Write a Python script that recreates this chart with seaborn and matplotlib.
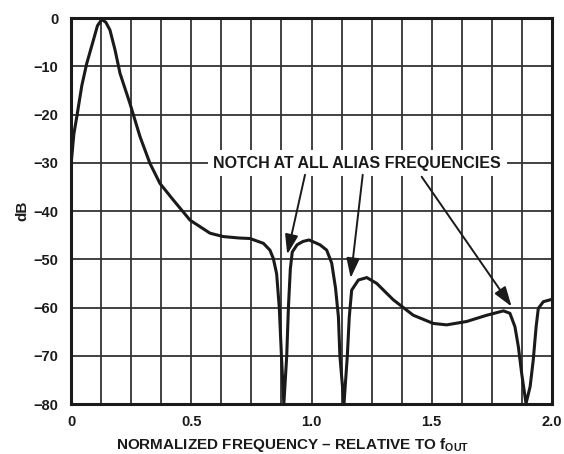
import numpy as np
import pandas as pd
import matplotlib
matplotlib.use("Agg")
import matplotlib.pyplot as plt
import seaborn as sns

# frequency response (normalized freq, dB)
freq = [0.000, 0.012, 0.024, 0.045, 0.065, 0.093, 0.110, 0.128, 0.145, 0.162,
        0.183, 0.204, 0.245, 0.287, 0.328, 0.370, 0.425, 0.495, 0.578, 0.633,
        0.700, 0.744, 0.800, 0.827, 0.841, 0.855, 0.866, 0.875, 0.885, 0.897,
        0.904, 0.912, 0.920, 0.940, 0.965, 0.990, 1.035, 1.063, 1.084, 1.100,
        1.112, 1.118, 1.135, 1.149, 1.157, 1.167, 1.195, 1.230, 1.271, 1.340,
        1.423, 1.506, 1.562, 1.645, 1.729, 1.798, 1.825, 1.846, 1.860, 1.874,
        1.892, 1.909, 1.922, 1.934, 1.943, 1.964, 2.000]
db = [-30.5, -24.0, -20.5, -14.0, -9.5, -4.6, -1.6, -0.3, -0.9, -2.5,
      -6.6, -11.5, -17.7, -24.6, -30.1, -34.3, -37.7, -41.9, -44.6, -45.3,
      -45.6, -45.7, -46.7, -48.1, -49.8, -53.0, -60.0, -70.0, -80.0, -70.0,
      -60.0, -52.0, -48.5, -47.0, -46.3, -46.0, -47.0, -48.1, -50.8, -56.0,
      -62.0, -70.0, -80.0, -70.0, -62.0, -56.4, -54.3, -53.8, -55.0, -58.4,
      -61.6, -63.3, -63.6, -62.9, -61.6, -60.7, -61.2, -64.0, -68.1, -73.7,
      -79.9, -76.4, -70.9, -64.0, -60.2, -58.8, -58.3]

xticks = [0, 0.5, 1.0, 1.5, 2.0]
xticklabels = ["0", "0.5", "1.0", "1.5", "2.0"]
yticks = [0, -10, -20, -30, -40, -50, -60, -70, -80]

note = "NOTCH AT ALL ALIAS FREQUENCIES"
note_xy = (1.19, -30.1)
arrow_starts = [(0.973, -32.5), (1.213, -32.5), (1.458, -32.9)]
arrow_tips = [(0.899, -49.0), (1.163, -53.9), (1.832, -59.8)]

df = pd.DataFrame({"freq": freq, "db": db})

sns.set_theme(style="white")
plt.rcParams["font.family"] = ["Liberation Sans", "DejaVu Sans"]
plt.rcParams["font.weight"] = "bold"
plt.rcParams["mathtext.fontset"] = "custom"
plt.rcParams["mathtext.rm"] = "Liberation Sans:bold"
plt.rcParams["mathtext.bf"] = "Liberation Sans:bold"

fig = plt.figure(figsize=(5.64, 4.54), dpi=100)
ax = fig.add_axes([71 / 564, 1 - 404 / 454, 481 / 564, 386 / 454])

sns.lineplot(data=df, x="freq", y="db", ax=ax, color="#1a1a1a", lw=2.2,
             sort=False, zorder=4)

ax.set_xlim(0, 2.0)
ax.set_ylim(-80, 0)
ax.set_xticks(xticks)
ax.set_xticklabels(xticklabels)
ax.set_xticks(np.arange(0, 2.01, 0.125), minor=True)
ax.set_yticks(yticks)
ax.grid(True, which="both", color="#333333", lw=1.3, zorder=1)
ax.tick_params(which="both", length=0, labelsize=10.5, colors="#1a1a1a")
ax.tick_params(axis="x", pad=8)
ax.tick_params(axis="y", pad=9)
for lab in ax.get_xticklabels() + ax.get_yticklabels():
    lab.set_fontweight("bold")
for sp in ax.spines.values():
    sp.set_color("#1a1a1a")
    sp.set_linewidth(2.2)
    sp.set_zorder(5)

ax.set_xlabel(r"NORMALIZED FREQUENCY – RELATIVE TO f$_{\mathbf{OUT}}$",
              fontsize=11, fontweight="bold", color="#1a1a1a")
ax.xaxis.set_label_coords((293 - 71) / 481, (404 - 436) / 386)
ax.set_ylabel("dB", fontsize=11, fontweight="bold", labelpad=3, color="#1a1a1a")

ax.text(note_xy[0], note_xy[1], note, ha="center", va="center", fontsize=11.5,
        fontweight="bold", color="#1a1a1a", zorder=6,
        bbox=dict(facecolor="white", edgecolor="none", pad=4))
for start, tip in zip(arrow_starts, arrow_tips):
    ax.annotate("", xy=tip, xytext=start, zorder=6,
                arrowprops=dict(arrowstyle="-|>,head_length=1.2,head_width=0.4",
                                color="#1a1a1a", lw=1.4, mutation_scale=10,
                                shrinkA=0, shrinkB=0))

fig.savefig("out.png", dpi=100)
